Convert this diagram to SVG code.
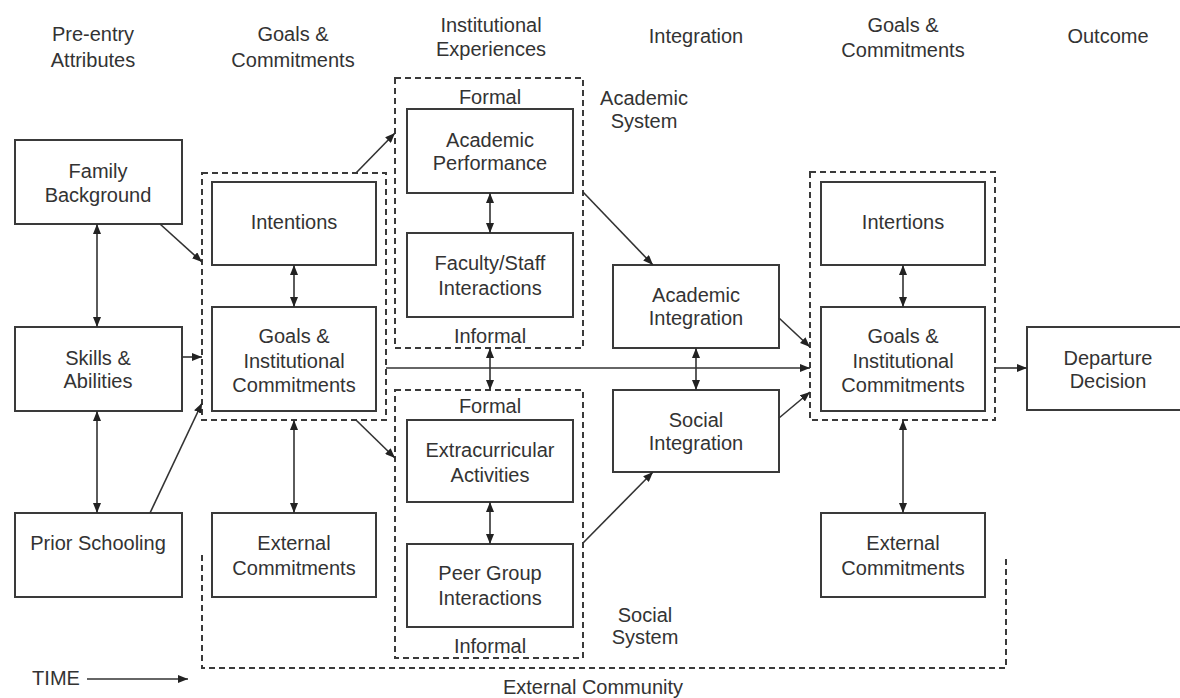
<svg xmlns="http://www.w3.org/2000/svg" width="1180" height="698" viewBox="0 0 1180 698">
<style>
text{font-family:"Liberation Sans",Arial,sans-serif;font-size:20px;fill:#333;text-anchor:middle}
.box{fill:#fff;stroke:#3a3a3a;stroke-width:2}
.dash{fill:none;stroke:#3a3a3a;stroke-width:2;stroke-dasharray:6 4}
.c line,.c path{stroke:#333;stroke-width:1.6;fill:none}
.a{marker-end:url(#ah)}
.d{marker-start:url(#ah);marker-end:url(#ah)}
</style>
<defs>
<marker id="ah" viewBox="0 0 10 8" refX="10" refY="4" markerWidth="10" markerHeight="8" markerUnits="userSpaceOnUse" orient="auto-start-reverse">
<path d="M0,0 L10,4 L0,8 z" fill="#222"/>
</marker>
</defs>
<rect width="1180" height="698" fill="#fff"/>

<g id="headers">
<text x="93" y="41">Pre-entry</text><text x="93" y="67">Attributes</text>
<text x="293" y="41">Goals &amp;</text><text x="293" y="67">Commitments</text>
<text x="491" y="32">Institutional</text><text x="491" y="56">Experiences</text>
<text x="696" y="43">Integration</text>
<text x="903" y="32">Goals &amp;</text><text x="903" y="57">Commitments</text>
<text x="1108" y="43">Outcome</text>
</g>

<g id="groups">
<rect class="dash" x="202" y="173" width="184" height="247"/>
<rect class="dash" x="395" y="78" width="188" height="270"/>
<rect class="dash" x="395" y="390" width="188" height="268"/>
<rect class="dash" x="810" y="172" width="185" height="248"/>
<path class="dash" d="M202,555 V668 H1006 V555"/>
<text x="490" y="104">Formal</text>
<text x="490" y="343">Informal</text>
<text x="490" y="413">Formal</text>
<text x="490" y="653">Informal</text>
<text x="644" y="105">Academic</text><text x="644" y="128">System</text>
<text x="645" y="622">Social</text><text x="645" y="644">System</text>
<text x="593" y="694">External Community</text>
</g>

<g id="time">
<text x="56" y="685">TIME</text>
</g>

<g id="family"><rect class="box" x="15" y="140" width="167" height="84"/><text x="98" y="178">Family</text><text x="98" y="202">Background</text></g>
<g id="skills"><rect class="box" x="15" y="327" width="167" height="84"/><text x="98" y="365">Skills &amp;</text><text x="98" y="388">Abilities</text></g>
<g id="prior"><rect class="box" x="15" y="513" width="167" height="84"/><text x="98" y="550">Prior Schooling</text></g>

<g id="intentions"><rect class="box" x="212" y="182" width="164" height="83"/><text x="294" y="229">Intentions</text></g>
<g id="goals1"><rect class="box" x="212" y="307" width="164" height="104"/><text x="294" y="343">Goals &amp;</text><text x="294" y="368">Institutional</text><text x="294" y="392">Commitments</text></g>
<g id="external1"><rect class="box" x="212" y="513" width="164" height="84"/><text x="294" y="550">External</text><text x="294" y="575">Commitments</text></g>

<g id="acperf"><rect class="box" x="407" y="109" width="166" height="84"/><text x="490" y="147">Academic</text><text x="490" y="170">Performance</text></g>
<g id="faculty"><rect class="box" x="407" y="233" width="166" height="84"/><text x="490" y="270">Faculty/Staff</text><text x="490" y="295">Interactions</text></g>
<g id="extra"><rect class="box" x="407" y="420" width="166" height="82"/><text x="490" y="457">Extracurricular</text><text x="490" y="482">Activities</text></g>
<g id="peer"><rect class="box" x="407" y="544" width="166" height="83"/><text x="490" y="580">Peer Group</text><text x="490" y="605">Interactions</text></g>

<g id="acint"><rect class="box" x="613" y="265" width="166" height="83"/><text x="696" y="302">Academic</text><text x="696" y="325">Integration</text></g>
<g id="socint"><rect class="box" x="613" y="390" width="166" height="82"/><text x="696" y="427">Social</text><text x="696" y="450">Integration</text></g>

<g id="intertions"><rect class="box" x="821" y="182" width="164" height="83"/><text x="903" y="229">Intertions</text></g>
<g id="goals2"><rect class="box" x="821" y="307" width="164" height="104"/><text x="903" y="343">Goals &amp;</text><text x="903" y="368">Institutional</text><text x="903" y="392">Commitments</text></g>
<g id="external2"><rect class="box" x="821" y="513" width="164" height="84"/><text x="903" y="550">External</text><text x="903" y="575">Commitments</text></g>

<g id="departure"><rect class="box" x="1027" y="327" width="170" height="83"/><text x="1108" y="365">Departure</text><text x="1108" y="388">Decision</text></g>

<g id="connectors" class="c">
<line class="a" x1="87" y1="679" x2="188" y2="679"/>
<line class="a" x1="160" y1="224" x2="202" y2="262"/>
<line class="d" x1="97" y1="224" x2="97" y2="327"/>
<line class="a" x1="182" y1="357" x2="202" y2="357"/>
<line class="d" x1="97" y1="411" x2="97" y2="513"/>
<line class="a" x1="150" y1="513" x2="202" y2="403"/>
<line class="d" x1="294" y1="265" x2="294" y2="307"/>
<line class="d" x1="294" y1="420" x2="294" y2="513"/>
<line class="a" x1="356" y1="173" x2="395" y2="133"/>
<line class="a" x1="356" y1="420" x2="395" y2="458"/>
<line class="d" x1="490" y1="193" x2="490" y2="233"/>
<line class="d" x1="490" y1="348" x2="490" y2="390"/>
<line class="d" x1="490" y1="502" x2="490" y2="544"/>
<line class="a" x1="583" y1="192" x2="653" y2="265"/>
<line class="a" x1="583" y1="543" x2="653" y2="472"/>
<line class="d" x1="696" y1="348" x2="696" y2="390"/>
<line class="a" x1="386" y1="368" x2="810" y2="368"/>
<line class="a" x1="779" y1="318" x2="810" y2="347"/>
<line class="a" x1="779" y1="418" x2="810" y2="392"/>
<line class="a" x1="995" y1="368" x2="1027" y2="368"/>
<line class="d" x1="903" y1="265" x2="903" y2="307"/>
<line class="d" x1="903" y1="420" x2="903" y2="513"/>
</g>
</svg>
